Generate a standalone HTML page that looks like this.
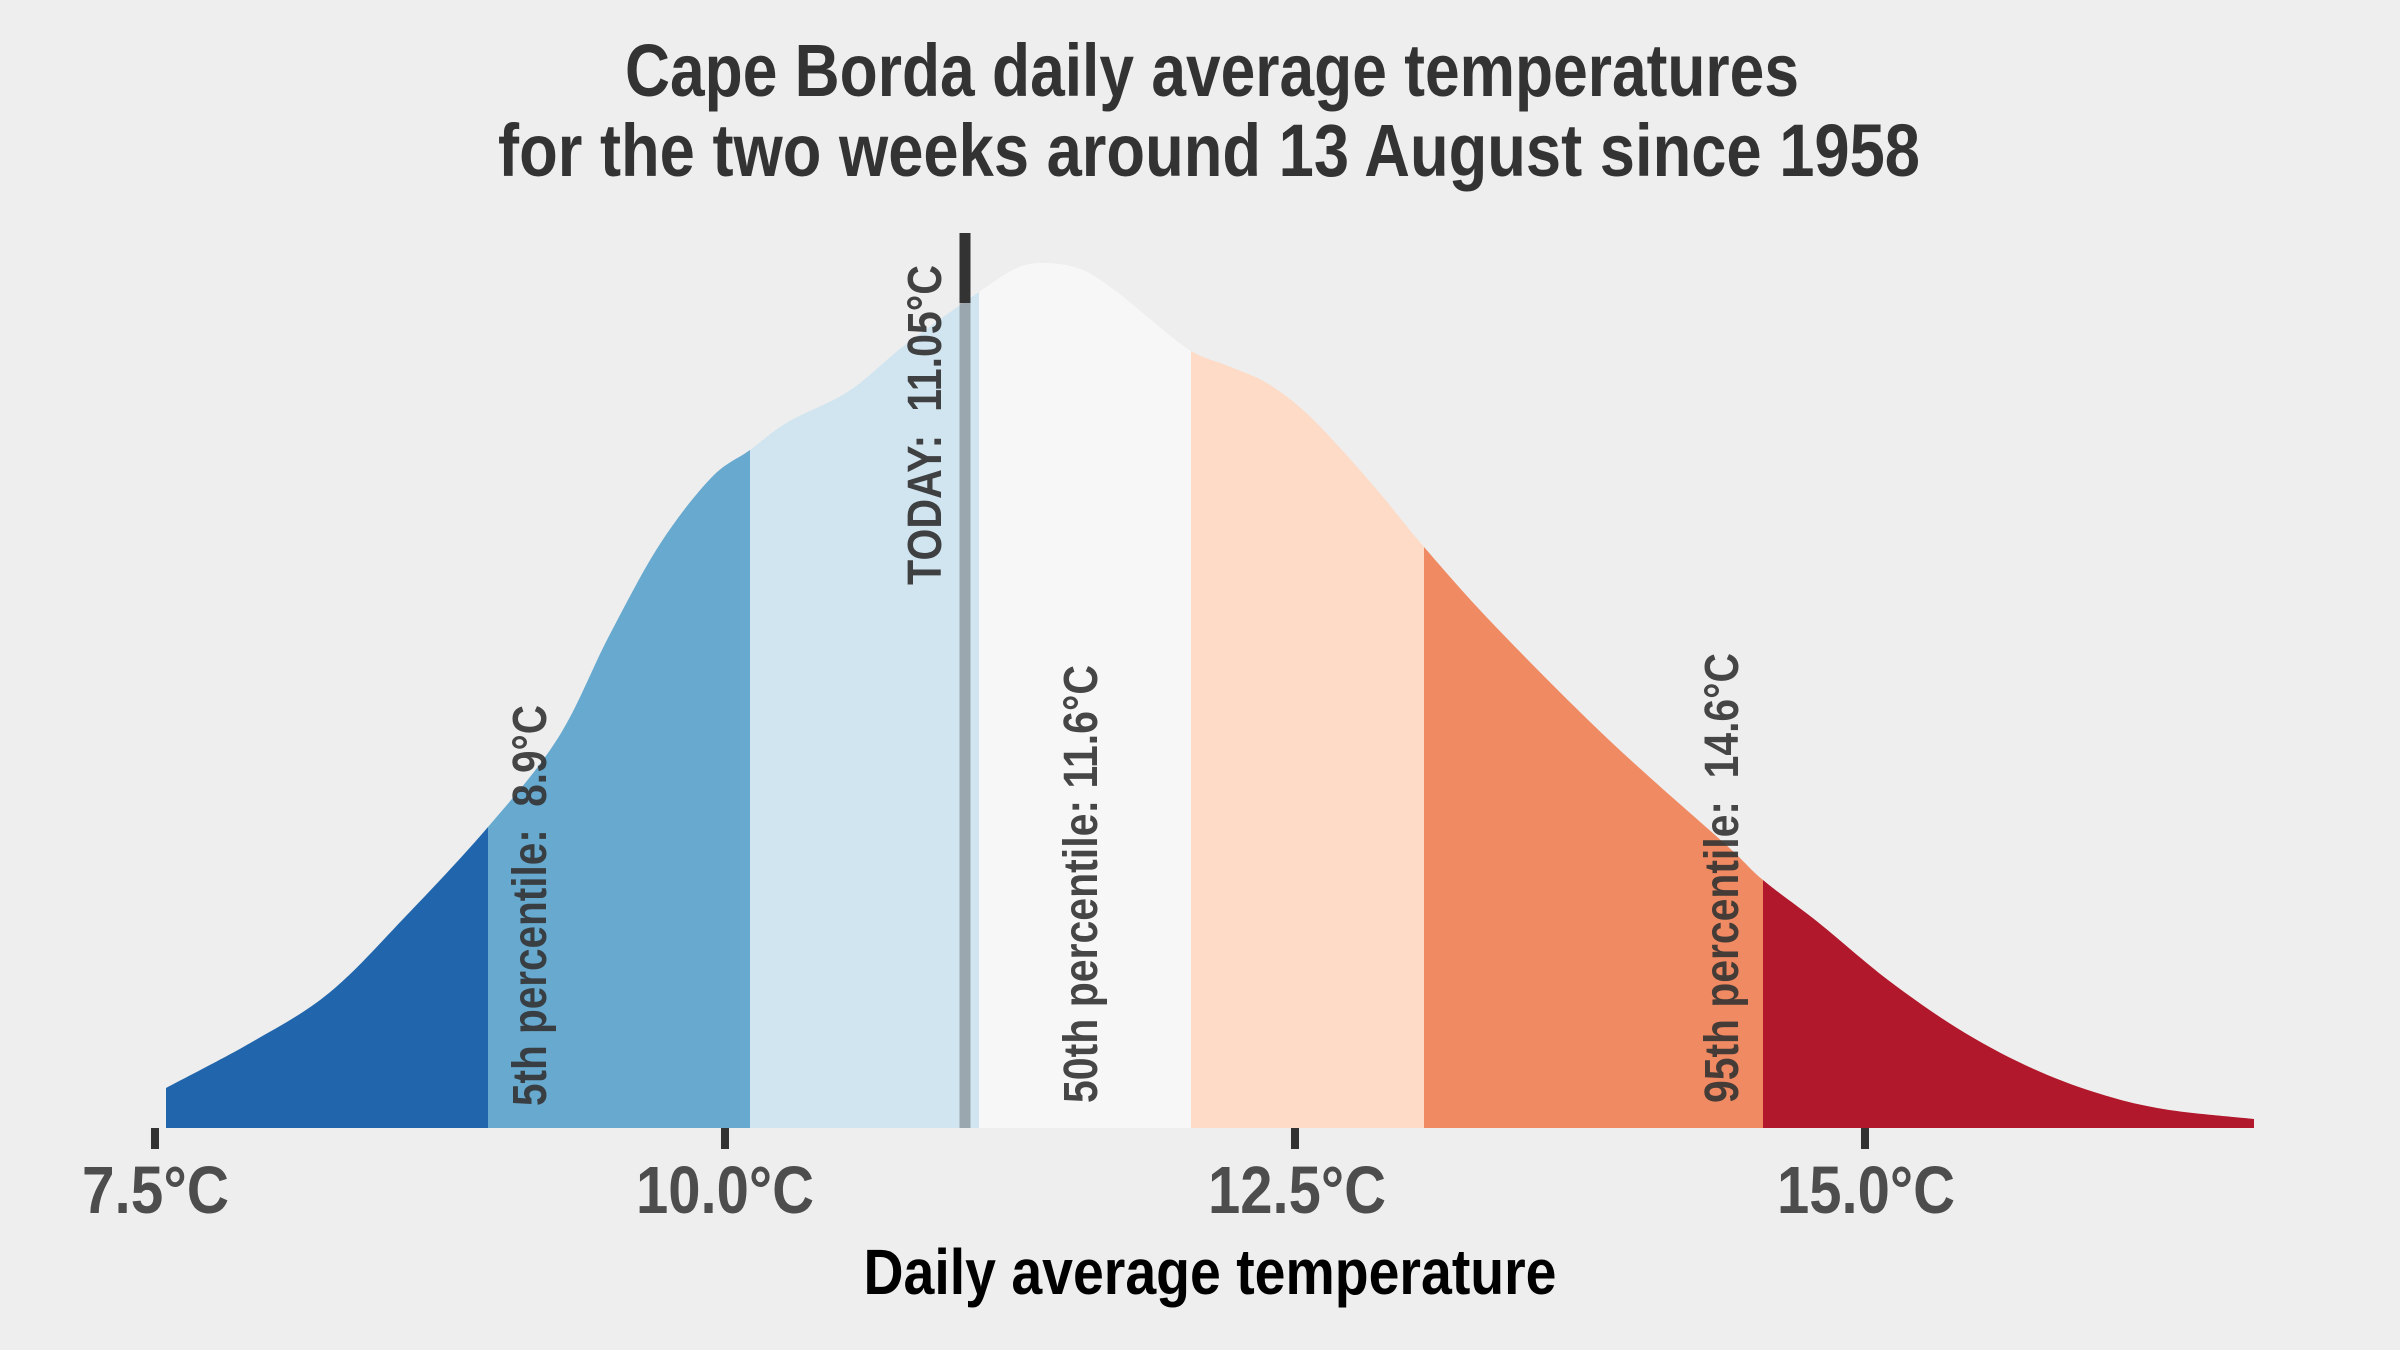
<!DOCTYPE html>
<html>
<head>
<meta charset="utf-8">
<style>
  html, body { margin: 0; padding: 0; background: #EEEEEE; }
  svg { display: block; }
  text { font-family: "Liberation Sans Narrow", "Liberation Sans", sans-serif; font-weight: bold; }
</style>
</head>
<body>
<svg width="2400" height="1350" viewBox="0 0 2400 1350" xmlns="http://www.w3.org/2000/svg">
  <rect x="0" y="0" width="2400" height="1350" fill="#EEEEEE"/>

  <defs>
    <clipPath id="area">
      <path id="areapath" d="M166,1128 L166,1088 L209,1065 L252,1042 L290,1018 L329,993 L367,957 L405,917 L447,873 L488,827 L523,784 L558,738 L584,688 L609,636 L635,588 L660,544 L686,508 L711,478 L730,463 L750,450 L770,436 L788,422 L819,406 L849,391 L877,369 L905,345 L942,318 L979,292 L1000,277 L1017,268 L1032,264 L1047,263 L1065,265 L1083,270 L1100,280 L1117,292 L1133,305 L1150,319 L1170,336 L1191,351 L1228,366 L1265,382 L1303,410 L1341,449 L1383,497 L1424,547 L1459,587 L1494,625 L1551,683 L1609,740 L1666,792 L1724,843 L1763,880 L1819,923 L1854,952 L1888,980 L1923,1005 L1957,1028 L1991,1048 L2025,1065 L2060,1080 L2094,1092 L2129,1102 L2163,1109 L2208,1115 L2254,1119 L2254,1128 Z"/>
    </clipPath>
  </defs>

  <!-- Title -->
  <text x="1212" y="96" font-size="74" fill="#333333" text-anchor="middle" textLength="1174" lengthAdjust="spacingAndGlyphs">Cape Borda daily average temperatures</text>
  <text x="1209" y="176" font-size="74" fill="#333333" text-anchor="middle" textLength="1422" lengthAdjust="spacingAndGlyphs">for the two weeks around 13 August since 1958</text>

  <!-- Density bands -->
  <g clip-path="url(#area)">
    <rect x="160" y="200" width="328" height="930" fill="#2166AC"/>
    <rect x="488" y="200" width="262" height="930" fill="#67A9CF"/>
    <rect x="750" y="200" width="229" height="930" fill="#D1E5F0"/>
    <rect x="979" y="200" width="212" height="930" fill="#F7F7F7"/>
    <rect x="1191" y="200" width="233" height="930" fill="#FDDBC7"/>
    <rect x="1424" y="200" width="339" height="930" fill="#EF8A62"/>
    <rect x="1763" y="200" width="495" height="930" fill="#B2182B"/>
  </g>

  <!-- Today line -->
  <rect x="959.5" y="233" width="11" height="895" fill="#333333" opacity="0.35"/>
  <rect x="959.5" y="233" width="11" height="70" fill="#333333"/>

  <!-- Vertical labels -->
  <text transform="translate(941,585) rotate(-90)" font-size="48" fill="#333333" opacity="0.92" textLength="320" lengthAdjust="spacingAndGlyphs" xml:space="preserve">TODAY:  11.05°C</text>
  <text transform="translate(546,1106) rotate(-90)" font-size="48" fill="#333333" opacity="0.9" textLength="401" lengthAdjust="spacingAndGlyphs" xml:space="preserve">5th percentile:  8.9°C</text>
  <text transform="translate(1097,1103) rotate(-90)" font-size="48" fill="#333333" opacity="0.9" textLength="438" lengthAdjust="spacingAndGlyphs" xml:space="preserve">50th percentile: 11.6°C</text>
  <text transform="translate(1738,1103) rotate(-90)" font-size="48" fill="#333333" opacity="0.9" textLength="450" lengthAdjust="spacingAndGlyphs" xml:space="preserve">95th percentile:  14.6°C</text>

  <!-- Ticks -->
  <rect x="151" y="1128" width="8" height="21" fill="#333333"/>
  <rect x="721" y="1128" width="8" height="21" fill="#333333"/>
  <rect x="1291" y="1128" width="8" height="21" fill="#333333"/>
  <rect x="1861" y="1128" width="8" height="21" fill="#333333"/>

  <!-- Tick labels -->
  <text x="155.5" y="1213" font-size="67" fill="#4D4D4D" text-anchor="middle" textLength="147" lengthAdjust="spacingAndGlyphs">7.5°C</text>
  <text x="725" y="1213" font-size="67" fill="#4D4D4D" text-anchor="middle" textLength="178" lengthAdjust="spacingAndGlyphs">10.0°C</text>
  <text x="1297" y="1213" font-size="67" fill="#4D4D4D" text-anchor="middle" textLength="178" lengthAdjust="spacingAndGlyphs">12.5°C</text>
  <text x="1866" y="1213" font-size="67" fill="#4D4D4D" text-anchor="middle" textLength="178" lengthAdjust="spacingAndGlyphs">15.0°C</text>

  <!-- Axis title -->
  <text x="1210" y="1294" font-size="64" fill="#000000" text-anchor="middle" textLength="693" lengthAdjust="spacingAndGlyphs">Daily average temperature</text>
</svg>
<script>
(function(){
  var p=[[166,1088],[252,1042],[329,993],[405,917],[488,827],[558,738],[609,636],[660,544],[711,478],[750,450],[788,422],[849,391],[905,345],[979,292],[1017,268],[1047,263],[1083,270],[1117,292],[1150,319],[1191,351],[1228,366],[1265,382],[1303,410],[1341,449],[1383,497],[1424,547],[1494,625],[1609,740],[1724,843],[1763,880],[1819,923],[1888,980],[1957,1028],[2025,1065],[2094,1092],[2163,1109],[2254,1119]];
  var d="M166,1128 L"+p[0][0]+","+p[0][1];
  for(var i=0;i<p.length-1;i++){
    var p0=p[i>0?i-1:0],p1=p[i],p2=p[i+1],p3=p[i+2<p.length?i+2:p.length-1];
    var c1x=p1[0]+(p2[0]-p0[0])/6,c1y=p1[1]+(p2[1]-p0[1])/6;
    var c2x=p2[0]-(p3[0]-p1[0])/6,c2y=p2[1]-(p3[1]-p1[1])/6;
    d+=" C"+c1x.toFixed(1)+","+c1y.toFixed(1)+" "+c2x.toFixed(1)+","+c2y.toFixed(1)+" "+p2[0]+","+p2[1];
  }
  d+=" L2254,1128 Z";
  var el=document.getElementById("areapath");
  if(el){el.setAttribute("d",d);}
})();
</script>
</body>
</html>
